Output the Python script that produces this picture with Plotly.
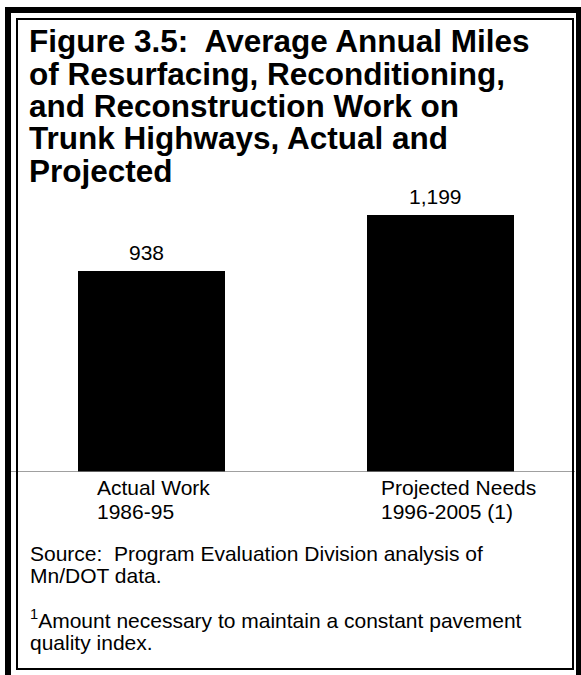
import plotly.graph_objects as go

# Chart data
categories = ["Actual Work", "Projected Needs"]
periods = ["1986-95", "1996-2005 (1)"]
miles = [938, 1199]

title_lines = [
    "Figure 3.5:  Average Annual Miles",
    "of Resurfacing, Reconditioning,",
    "and Reconstruction Work on",
    "Trunk Highways, Actual and",
    "Projected",
]
source_lines = [
    "Source:  Program Evaluation Division analysis of",
    "Mn/DOT data.",
]
note_lines = [
    "<sup>1</sup>Amount necessary to maintain a constant pavement",
    "quality index.",
]

W, H = 581, 675
FONT = "Liberation Sans, Arial, Helvetica, sans-serif"


def fx(p):
    return p / W


def fy(p):
    return 1 - p / H


# plot-area geometry (pixels)
plot_left, plot_right = 11, 575
plot_top, baseline = 100, 472
px_per_mile = 0.2143
bar_px_left, bar_px_right = 151.5, 440.0
cat_px = bar_px_right - bar_px_left

y_max = (baseline - plot_top) / px_per_mile
x_lo = -(bar_px_left - plot_left) / cat_px
x_hi = 1 + (plot_right - bar_px_right) / cat_px

fig = go.Figure()
fig.add_trace(
    go.Bar(
        x=categories,
        y=miles,
        width=147 / cat_px,
        marker=dict(color="#000000", line=dict(width=0)),
        hoverinfo="skip",
    )
)

annotations = []

# value labels above bars
for cat, v in zip(categories, miles):
    annotations.append(
        dict(
            x=cat, y=v, xref="x", yref="y",
            text=f"{v:,}", showarrow=False,
            xanchor="center", yanchor="bottom", xshift=-5, yshift=5,
            font=dict(family=FONT, size=21, color="#000000"),
        )
    )

# category labels below the baseline
label_left = [95, 379]
for i, (cat, per) in enumerate(zip(categories, periods)):
    for j, (txt, yc) in enumerate([(cat, 487), (per, 511)]):
        annotations.append(
            dict(
                x=fx(label_left[i]), y=fy(yc), xref="paper", yref="paper",
                text=txt, showarrow=False,
                xanchor="left", yanchor="middle",
                font=dict(family=FONT, size=21, color="#000000"),
            )
        )

# title
for k, line in enumerate(title_lines):
    annotations.append(
        dict(
            x=fx(27), y=fy(41 + 32.5 * k), xref="paper", yref="paper",
            text=f"<b>{line}</b>", showarrow=False,
            xanchor="left", yanchor="middle",
            font=dict(family=FONT, size=31.5, color="#000000"),
        )
    )

# source and footnote
for k, line in enumerate(source_lines):
    annotations.append(
        dict(
            x=fx(28), y=fy(553 + 22 * k), xref="paper", yref="paper",
            text=line, showarrow=False,
            xanchor="left", yanchor="middle",
            font=dict(family=FONT, size=21, color="#000000"),
        )
    )
for k, line in enumerate(note_lines):
    annotations.append(
        dict(
            x=fx(28), y=fy(619 + 23 * k), xref="paper", yref="paper",
            text=line, showarrow=False,
            xanchor="left", yanchor="middle",
            font=dict(family=FONT, size=21, color="#000000"),
        )
    )

shapes = [
    # baseline
    dict(type="line", xref="paper", yref="y",
         x0=fx(plot_left), x1=fx(plot_right), y0=0, y1=0,
         line=dict(color="#808080", width=1.5), layer="above"),
    # thin inner frame
    dict(type="rect", xref="paper", yref="paper",
         x0=fx(17), x1=fx(573), y0=fy(669), y1=fy(19),
         line=dict(color="#000000", width=2), fillcolor="rgba(0,0,0,0)"),
]
# thick outer frame
for x0, x1, y0, y1 in [(5, 11, 7, 690), (5, 590, 7, 13), (576, 590, 7, 690)]:
    shapes.append(
        dict(type="rect", xref="paper", yref="paper",
             x0=fx(x0), x1=fx(x1), y0=fy(y1), y1=fy(y0),
             line=dict(width=0), fillcolor="#000000")
    )

fig.update_layout(
    width=W, height=H,
    margin=dict(l=0, r=0, t=0, b=0),
    paper_bgcolor="#ffffff", plot_bgcolor="#ffffff",
    showlegend=False,
    bargap=0,
    xaxis=dict(
        domain=[fx(plot_left), fx(plot_right)],
        range=[x_lo, x_hi], type="category",
        showticklabels=False, showgrid=False, zeroline=False, showline=False,
        fixedrange=True,
    ),
    yaxis=dict(
        domain=[fy(baseline), fy(plot_top)],
        range=[0, y_max],
        showticklabels=False, showgrid=False, zeroline=False, showline=False,
        fixedrange=True,
    ),
    annotations=annotations,
    shapes=shapes,
)

fig.write_html("out.html", config={"displayModeBar": False})
